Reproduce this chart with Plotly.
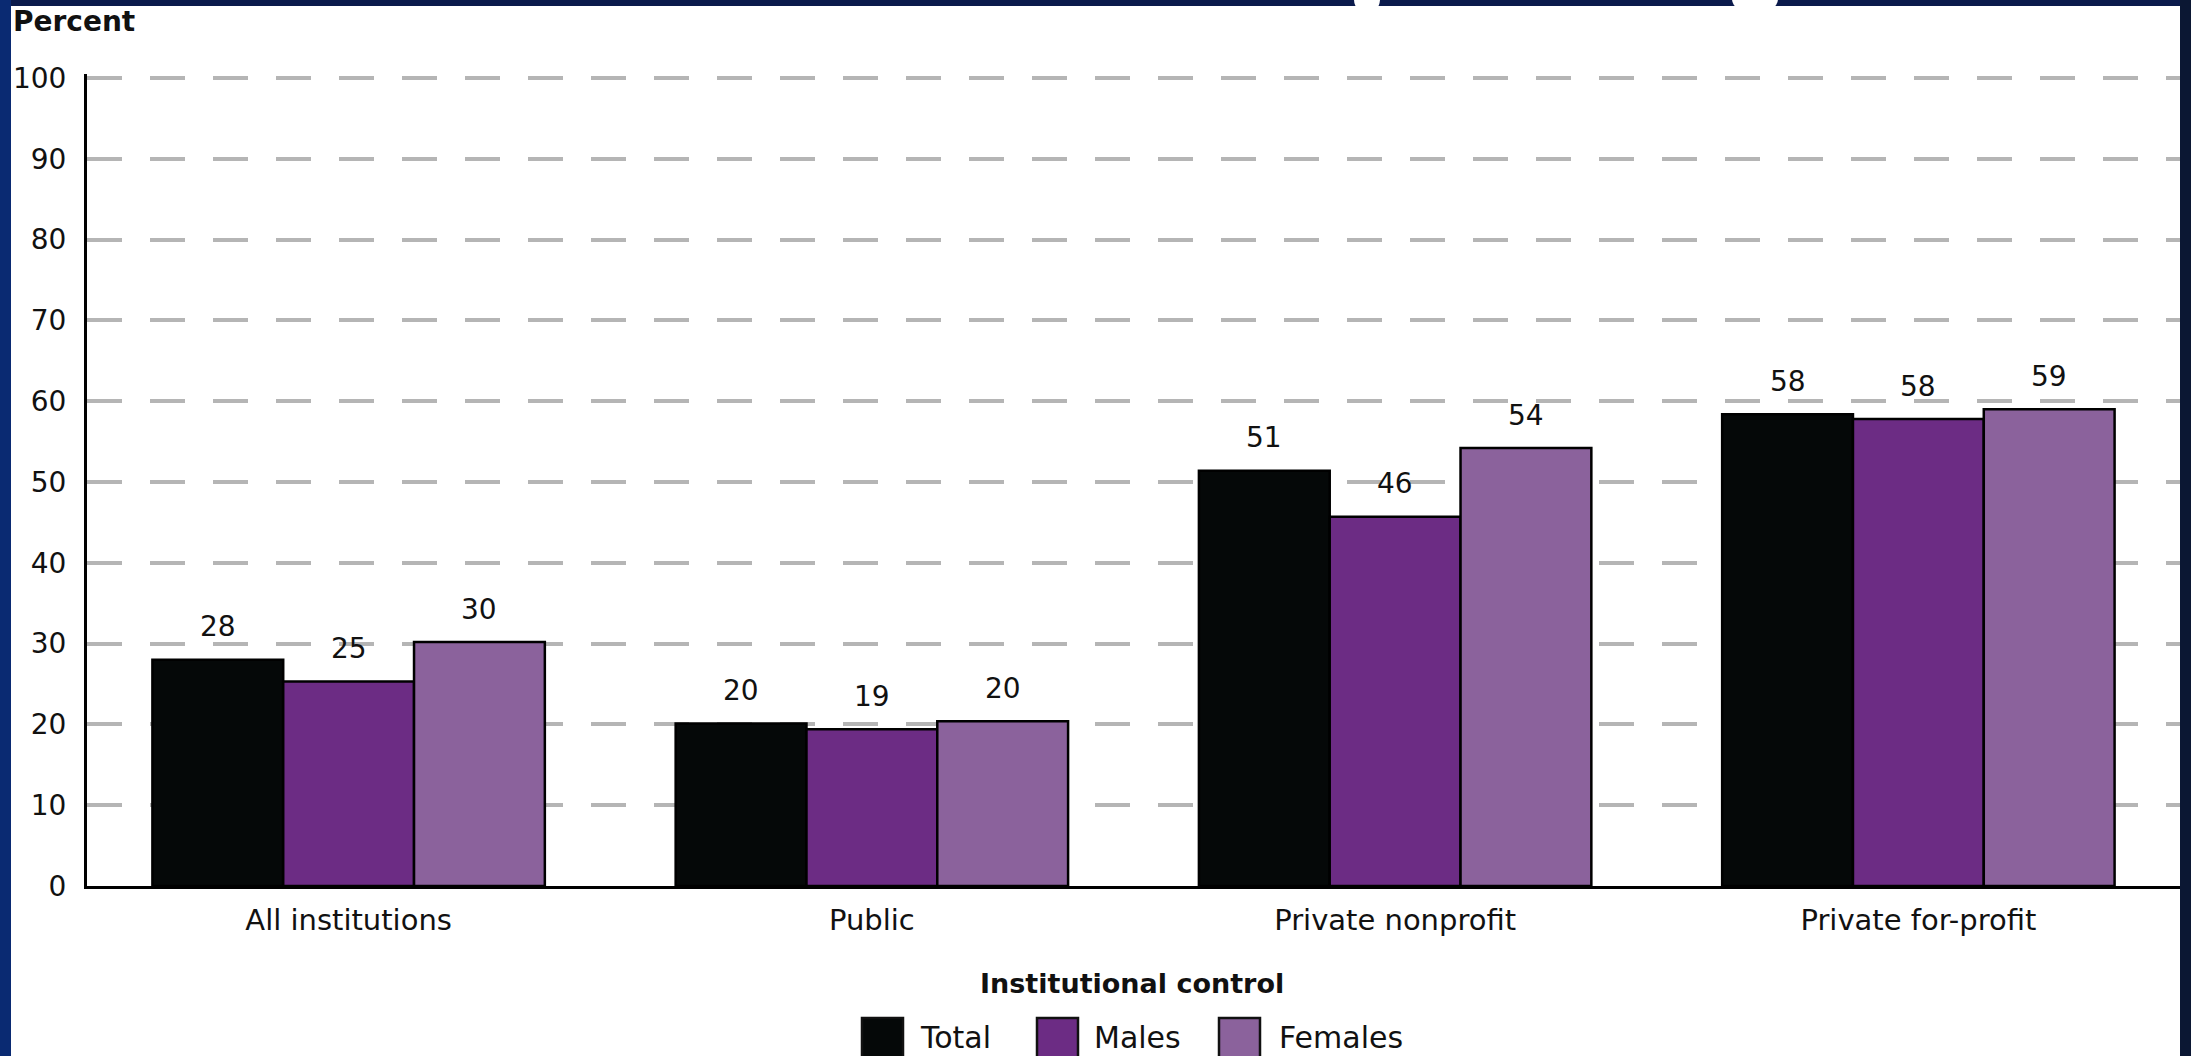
import plotly.graph_objects as go

# ---------------- data ----------------
categories = ["All institutions", "Public", "Private nonprofit", "Private for-profit"]
series_names = ["Total", "Males", "Females"]
total = [28.0, 20.1, 51.4, 58.4]
males = [25.3, 19.4, 45.7, 57.8]
females = [30.2, 20.4, 54.2, 59.0]
y_ticks = list(range(0, 101, 10))
y_title = "Percent"
x_title = "Institutional control"

# ---------------- style ----------------
colors = ["#050808", "#6c2c84", "#8b629c"]
FONT = "DejaVu Sans"
TXT = "#111111"
W, H = 2191, 1056
Y_TOP = 100.5
ML, MR, MT, MB = 87, 11, 74, 170
PW = W - ML - MR
PH = H - MT - MB
BARGAP = 0.25


def px_x(px):
    return (px - ML) / PW


def px_y(py):
    return (H - MB - py) / PH


series = [total, males, females]

fig = go.Figure()
for name, vals, col in zip(series_names, series, colors):
    fig.add_trace(go.Bar(
        name=name, x=categories, y=vals,
        marker=dict(color=col, line=dict(color="#000000", width=2.5)),
        showlegend=False,
    ))

# value labels above bars
bw = PW / len(categories) * (1 - BARGAP) / len(series)
annotations = []
for i, vals in enumerate(series):
    for cat, v in zip(categories, vals):
        annotations.append(dict(
            x=cat, y=v, xref="x", yref="y", text=f"{v:.0f}", showarrow=False,
            xshift=(i - 1) * bw, yshift=33, yanchor="middle",
            font=dict(family=FONT, size=28, color=TXT),
        ))

# titles
annotations.append(dict(
    x=px_x(11), y=px_y(22), xref="paper", yref="paper", text=f"<b>{y_title}</b>",
    showarrow=False, xanchor="left", yanchor="middle",
    font=dict(family=FONT, size=28, color=TXT),
))
annotations.append(dict(
    x=px_x(1132), y=px_y(983), xref="paper", yref="paper", text=f"<b>{x_title}</b>",
    showarrow=False, xanchor="center", yanchor="middle",
    font=dict(family=FONT, size=27, color=TXT),
))

shapes = []
# white card over navy background
shapes.append(dict(type="rect", xref="paper", yref="paper", layer="below",
                   x0=px_x(11), x1=px_x(2180), y0=px_y(1070), y1=px_y(6),
                   fillcolor="#ffffff", line=dict(width=0)))
# right dark strip
shapes.append(dict(type="rect", xref="paper", yref="paper", layer="below",
                   x0=px_x(2180), x1=px_x(2200), y0=px_y(1070), y1=px_y(0),
                   fillcolor="#0b1733", line=dict(width=0)))
# top dark strip
shapes.append(dict(type="rect", xref="paper", yref="paper", layer="below",
                   x0=px_x(11), x1=px_x(2180), y0=px_y(6), y1=px_y(-2),
                   fillcolor="#0b1a4c", line=dict(width=0)))
# white notches on top strip
for cx0, cx1 in [(1354, 1380), (1732, 1778)]:
    shapes.append(dict(type="circle", xref="paper", yref="paper", layer="below",
                       x0=px_x(cx0), x1=px_x(cx1), y0=px_y(14), y1=px_y(-16),
                       fillcolor="#ffffff", line=dict(width=0)))

# custom legend
legend_sq = [862, 1037, 1219]
legend_tx = [918, 1092, 1277]
for name, col, sx, tx in zip(series_names, colors, legend_sq, legend_tx):
    shapes.append(dict(type="rect", xref="paper", yref="paper",
                       x0=px_x(sx), x1=px_x(sx + 41), y0=px_y(1064), y1=px_y(1018),
                       fillcolor=col, line=dict(color="#111111", width=2.5)))
    annotations.append(dict(
        x=px_x(tx), y=px_y(1037), xref="paper", yref="paper", text=name,
        showarrow=False, xanchor="left", yanchor="middle",
        font=dict(family=FONT, size=30, color=TXT),
    ))

fig.update_layout(
    width=W, height=H,
    margin=dict(l=ML, r=MR, t=MT, b=MB, pad=0),
    paper_bgcolor="#0a2a72",
    plot_bgcolor="#ffffff",
    barmode="group", bargap=BARGAP, bargroupgap=0,
    font=dict(family=FONT, size=28, color=TXT),
    annotations=annotations,
    shapes=shapes,
    showlegend=False,
)
fig.update_yaxes(
    range=[0, Y_TOP], tickvals=y_ticks, ticks="",
    showgrid=True, gridcolor="#b5b5b5", gridwidth=4, griddash="35px,28px",
    showline=True, linecolor="#000000", linewidth=3,
    zeroline=False, ticklabelstandoff=12,
    tickfont=dict(family=FONT, size=28, color=TXT),
    fixedrange=True,
)
fig.update_xaxes(
    showline=True, linecolor="#000000", linewidth=3, ticks="",
    tickfont=dict(family=FONT, size=29, color=TXT),
    showgrid=False, ticklabelstandoff=6,
)

fig.write_html("out.html")
